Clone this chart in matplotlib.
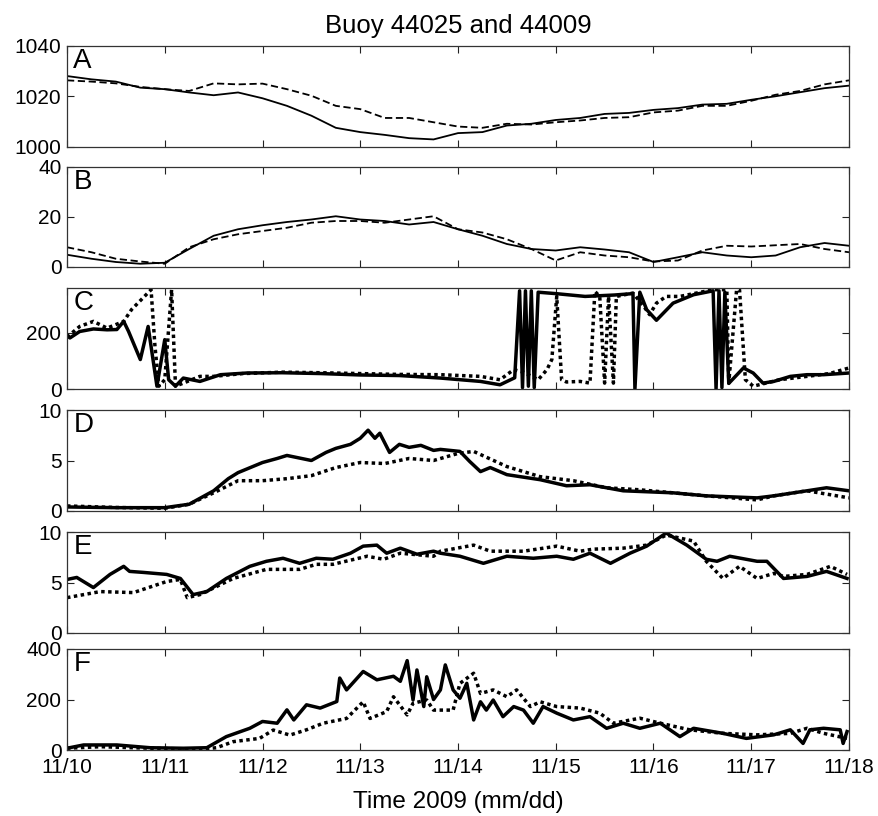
import numpy as np
import matplotlib.pyplot as plt

plt.rcParams['font.family'] = ['Liberation Sans', 'DejaVu Sans']

# days since 11/10 00:00
t_ab = [0.0, 0.25, 0.5, 0.75, 1.0, 1.25, 1.5, 1.75, 2.0, 2.25, 2.5, 2.75, 3.0,
        3.25, 3.5, 3.75, 4.0, 4.25, 4.5, 4.75, 5.0, 5.25, 5.5, 5.75, 6.0, 6.25,
        6.5, 6.75, 7.0, 7.25, 7.5, 7.75, 8.0]

# A: pressure (mb)
press_44025 = [1028.1, 1026.8, 1025.9, 1023.5, 1022.9, 1021.6, 1020.5, 1021.6,
               1019.3, 1016.3, 1012.4, 1007.6, 1005.9, 1004.8, 1003.5, 1003.0,
               1005.5, 1005.9, 1008.5, 1009.2, 1010.7, 1011.5, 1013.1, 1013.5,
               1014.7, 1015.4, 1016.8, 1017.1, 1018.7, 1020.1, 1021.7, 1023.3,
               1024.3]
press_44009 = [1026.4, 1025.9, 1025.2, 1023.8, 1022.9, 1022.2, 1025.2, 1024.8,
               1025.1, 1022.9, 1020.3, 1016.3, 1015.0, 1011.5, 1011.5, 1009.8,
               1008.1, 1007.6, 1009.2, 1008.9, 1009.8, 1010.5, 1011.5, 1011.8,
               1013.7, 1014.4, 1016.3, 1016.3, 1018.3, 1020.7, 1022.2, 1024.8,
               1026.4]

# B: wind speed
wspd_44025 = [4.9, 3.3, 2.0, 1.3, 1.7, 7.2, 12.5, 15.1, 16.7, 18.0, 19.0, 20.3,
              19.0, 18.4, 17.0, 18.0, 15.1, 12.5, 9.2, 7.2, 6.6, 7.9, 7.0, 5.9,
              2.0, 3.9, 5.9, 4.6, 3.9, 4.6, 7.9, 9.6, 8.5]
wspd_44009 = [7.9, 5.9, 3.3, 2.2, 1.3, 7.9, 11.1, 13.1, 14.4, 15.7, 17.7, 18.4,
              18.4, 17.7, 19.0, 20.3, 15.1, 13.8, 11.1, 7.2, 2.6, 5.9, 4.6, 3.9,
              2.2, 2.6, 6.6, 8.5, 8.2, 8.7, 9.2, 7.2, 5.9]

# C: wind direction
t_dir_44025 = [0.0, 0.03, 0.13, 0.27, 0.41, 0.51, 0.58, 0.63, 0.75, 0.83, 0.92,
               1.0, 1.04, 1.11, 1.19, 1.36, 1.57, 1.84, 2.2, 2.6, 3.0, 3.4,
               3.82, 4.23, 4.43, 4.58, 4.63, 4.66, 4.69, 4.72, 4.75, 4.78, 4.82,
               5.0, 5.3, 5.6, 5.79, 5.81, 5.86, 5.93, 6.03, 6.2, 6.41, 6.61,
               6.64, 6.67, 6.7, 6.73, 6.77, 6.92, 7.02, 7.12, 7.23, 7.4, 7.57,
               7.74, 8.0]
dir_44025 = [190, 182, 205, 214, 211, 212, 241, 205, 105, 223, 10, 176, 33, 10,
             39, 27, 51, 57, 58, 55, 50, 48, 39, 27, 15, 40, 350, 5, 350, 10,
             350, 5, 345, 340, 330, 335, 340, 0, 345, 283, 245, 306, 336, 350,
             0, 350, 5, 345, 20, 75, 57, 21, 27, 45, 51, 51, 57]
t_dir_44009 = [0.0, 0.13, 0.27, 0.41, 0.58, 0.66, 0.86, 0.9, 0.94, 1.0, 1.07,
               1.11, 1.19, 1.36, 1.5, 1.8, 2.2, 2.6, 3.0, 3.4, 3.82, 4.23, 4.43,
               4.57, 4.67, 4.82, 4.91, 4.96, 5.01, 5.06, 5.11, 5.25, 5.35, 5.4,
               5.45, 5.5, 5.54, 5.59, 5.62, 5.79, 5.9, 5.96, 6.03, 6.13, 6.27,
               6.61, 6.75, 6.77, 6.85, 6.88, 6.94, 7.02, 7.29, 7.57, 7.8, 8.0]
dir_44009 = [185, 223, 241, 217, 241, 283, 354, 152, 10, 33, 354, 10, 21, 45,
             45, 55, 60, 58, 55, 52, 51, 45, 33, 69, 60, 33, 69, 105, 330, 33,
             25, 27, 21, 348, 330, 21, 330, 21, 330, 342, 295, 265, 306, 330,
             330, 354, 354, 21, 354, 354, 33, 10, 33, 45, 55, 75]

# D: significant wave height
t_hs_44025 = [0.0, 0.5, 1.0, 1.25, 1.5, 1.65, 1.75, 1.9, 2.0, 2.15, 2.25, 2.4,
              2.5, 2.65, 2.75, 2.9, 3.0, 3.08, 3.15, 3.2, 3.3, 3.4, 3.5, 3.62,
              3.75, 3.82, 4.02, 4.12, 4.23, 4.33, 4.5, 4.84, 5.11, 5.35, 5.69,
              6.2, 6.54, 7.06, 7.23, 7.57, 7.77, 8.0]
hs_44025 = [0.4, 0.33, 0.33, 0.67, 2.0, 3.2, 3.8, 4.4, 4.8, 5.2, 5.5, 5.2, 5.0,
            5.8, 6.2, 6.6, 7.2, 8.0, 7.2, 7.7, 5.8, 6.6, 6.3, 6.5, 6.0, 6.1,
            5.9, 4.9, 3.9, 4.3, 3.6, 3.1, 2.5, 2.6, 2.0, 1.8, 1.5, 1.3, 1.5,
            2.0, 2.3, 2.0]
t_hs_44009 = [0.0, 0.5, 1.0, 1.25, 1.5, 1.75, 2.0, 2.25, 2.5, 2.75, 3.0, 3.25,
              3.5, 3.75, 4.0, 4.16, 4.5, 4.84, 5.18, 5.52, 5.86, 6.2, 6.54,
              7.06, 7.23, 7.57, 8.0]
hs_44009 = [0.5, 0.35, 0.27, 0.67, 1.8, 3.0, 3.0, 3.2, 3.5, 4.3, 4.8, 4.7, 5.2,
            5.0, 5.7, 5.9, 4.4, 3.4, 3.0, 2.3, 2.1, 1.8, 1.5, 1.1, 1.5, 2.0,
            1.3]

# E: peak wave period
t_tp_44025 = [0.0, 0.1, 0.27, 0.44, 0.58, 0.64, 0.78, 1.02, 1.16, 1.29, 1.43,
              1.63, 1.87, 2.04, 2.21, 2.38, 2.55, 2.72, 2.9, 3.03, 3.17, 3.27,
              3.41, 3.58, 3.75, 3.82, 4.02, 4.26, 4.5, 4.77, 5.01, 5.18, 5.35,
              5.56, 5.76, 5.93, 6.13, 6.34, 6.54, 6.65, 6.78, 7.06, 7.16, 7.33,
              7.57, 7.77, 7.98]
tp_44025 = [5.3, 5.5, 4.5, 5.8, 6.6, 6.1, 6.0, 5.8, 5.4, 3.8, 4.1, 5.4, 6.6,
            7.1, 7.4, 6.9, 7.4, 7.3, 7.9, 8.6, 8.7, 7.9, 8.4, 7.8, 8.1, 7.9,
            7.6, 6.9, 7.6, 7.4, 7.6, 7.3, 7.9, 6.9, 7.9, 8.6, 9.9, 8.7, 7.3,
            7.1, 7.6, 7.1, 7.1, 5.4, 5.6, 6.1, 5.4]
t_tp_44009 = [0.0, 0.34, 0.68, 1.02, 1.16, 1.23, 1.36, 1.7, 2.04, 2.38, 2.55,
              2.72, 3.07, 3.24, 3.41, 3.75, 3.82, 4.16, 4.33, 4.67, 5.01, 5.25,
              5.38, 5.69, 5.93, 6.13, 6.41, 6.54, 6.71, 6.88, 7.06, 7.23, 7.33,
              7.57, 7.81, 7.98]
tp_44009 = [3.5, 4.1, 4.0, 5.1, 5.3, 3.5, 3.8, 5.4, 6.3, 6.3, 6.8, 6.8, 7.6,
            7.3, 7.9, 7.6, 8.1, 8.7, 8.1, 8.1, 8.6, 8.1, 8.3, 8.4, 8.7, 9.7,
            9.1, 7.1, 5.4, 6.6, 5.4, 5.9, 5.6, 5.8, 6.6, 5.8]

# F: wave energy flux
t_flux_44025 = [0.0, 0.17, 0.51, 0.85, 1.19, 1.43, 1.63, 1.87, 2.0, 2.15,
                2.25, 2.32, 2.45, 2.59, 2.76, 2.79, 2.86, 3.03, 3.17, 3.34,
                3.41, 3.48, 3.54, 3.58, 3.65, 3.68, 3.75, 3.82, 3.87, 3.95,
                4.02, 4.09, 4.16, 4.23, 4.29, 4.36, 4.46, 4.57, 4.67, 4.77,
                4.87, 5.01, 5.18, 5.35, 5.52, 5.69, 5.86, 6.07, 6.27, 6.41,
                6.71, 6.95, 7.23, 7.4, 7.53, 7.6, 7.74, 7.91, 7.94, 7.98]
flux_44025 = [7, 20, 20, 9, 7, 9, 53, 86, 113, 106, 159, 119, 179, 166, 192,
              285, 238, 311, 278, 292, 272, 354, 198, 317, 172, 290, 200, 238,
              337, 238, 205, 264, 119, 191, 158, 198, 132, 172, 158, 106, 172,
              146, 119, 132, 86, 106, 86, 106, 53, 86, 66, 46, 60, 80, 26, 80,
              86, 80, 26, 73]
t_flux_44009 = [0.0, 0.34, 0.85, 1.36, 1.53, 1.7, 1.97, 2.11, 2.28, 2.45,
                2.62, 2.86, 3.03, 3.1, 3.27, 3.34, 3.48, 3.54, 3.68, 3.75,
                3.95, 4.02, 4.16, 4.23, 4.36, 4.5, 4.6, 4.74, 4.84, 5.01,
                5.25, 5.45, 5.59, 5.86, 6.07, 6.37, 6.71, 7.06, 7.4, 7.57,
                7.74, 7.98]
flux_44009 = [7, 13, 7, 3, 9, 33, 46, 79, 59, 80, 106, 125, 191, 125, 152, 211,
              139, 185, 198, 158, 158, 264, 304, 224, 238, 211, 238, 172, 191,
              172, 166, 146, 106, 126, 106, 80, 66, 60, 66, 86, 66, 46]

day_labels = ['11/10', '11/11', '11/12', '11/13', '11/14', '11/15', '11/16',
              '11/17', '11/18']

panels = [
    ('A', (t_ab, press_44025), (t_ab, press_44009), (1000, 1040), [1000, 1020, 1040], 'thin'),
    ('B', (t_ab, wspd_44025), (t_ab, wspd_44009), (0, 40), [0, 20, 40], 'thin'),
    ('C', (t_dir_44025, dir_44025), (t_dir_44009, dir_44009), (0, 360), [0, 200], 'thick'),
    ('D', (t_hs_44025, hs_44025), (t_hs_44009, hs_44009), (0, 10), [0, 5, 10], 'thick'),
    ('E', (t_tp_44025, tp_44025), (t_tp_44009, tp_44009), (0, 10), [0, 5, 10], 'thick'),
    ('F', (t_flux_44025, flux_44025), (t_flux_44009, flux_44009), (0, 400), [0, 200, 400], 'thick'),
]

# panel tops/bottoms in pixels from the top of the figure
W, H = 879, 816
tops = [46, 167, 288, 410, 532, 649]
bottoms = [147, 267, 389, 511, 633, 750]
left, right = 67, 849

fig = plt.figure(figsize=(W / 100, H / 100), dpi=100)
axes = []
for i, (letter, solid, other, ylim, yticks, weight) in enumerate(panels):
    ax = fig.add_axes([left / W, 1 - bottoms[i] / H, (right - left) / W,
                       (bottoms[i] - tops[i]) / H])
    if weight == 'thin':
        ax.plot(*solid, color='k', lw=1.3)
        ax.plot(*other, color='k', lw=1.3, ls=(0, (4, 2)))
    else:
        ax.plot(*solid, color='k', lw=2.5)
        ax.plot(*other, color='k', lw=2.5, ls=(0, (1, 1)))
    ax.set_xlim(0, 8)
    ax.set_ylim(*ylim)
    ax.set_yticks(yticks)
    ax.set_xticks(np.arange(9))
    ax.tick_params(direction='in', top=True, right=True, length=5, width=0.8,
                   labelsize=15, colors='#222222', labelcolor='k')
    ax.tick_params(axis='y', pad=4)
    ax.tick_params(axis='x', pad=6)
    if letter != 'F':
        ax.set_xticklabels([])
    else:
        ax.set_xticklabels(day_labels)
    for s in ax.spines.values():
        s.set_linewidth(0.9)
        s.set_color('#333333')
    ax.text(0.008, 0.98, letter, transform=ax.transAxes, ha='left', va='top',
            fontsize=20)
    axes.append(ax)

axes[0].set_title('Buoy 44025 and 44009', fontsize=18.5, pad=9)
axes[-1].set_xlabel('Time 2009 (mm/dd)', fontsize=17.5, labelpad=10)

fig.savefig('out.png', dpi=100)
